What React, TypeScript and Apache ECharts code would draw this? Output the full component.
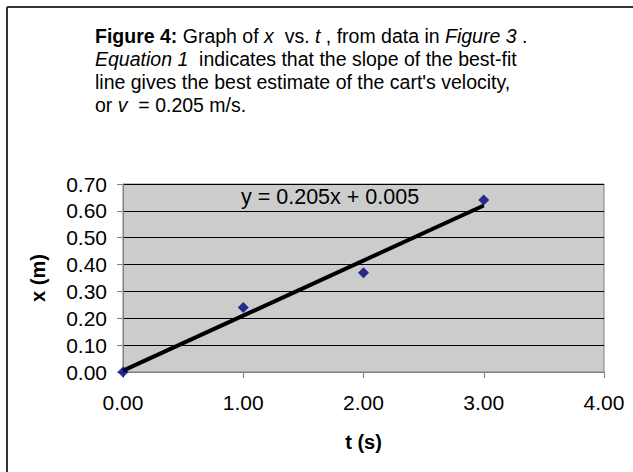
import React, { useEffect, useRef } from "react";
import * as echarts from "echarts";

const tValues = [0, 1, 2, 3];
const xValues = [0, 0.24, 0.37, 0.64];
const trendSlope = 0.205;
const trendIntercept = 0.005;
const trendRange = [0, 3];
const titleLines = [
  "{b|Figure 4:} Graph of {i|x}  vs. {i|t} , from data in {i|Figure 3} .",
  "{i|Equation 1}  indicates that the slope of the best-fit",
  "line gives the best estimate of the cart's velocity,",
  "or {i|v}  = 0.205 m/s.",
];
const equationLabel = "y = 0.205x + 0.005";

export default function App() {
  const ref = useRef<HTMLDivElement>(null);
  useEffect(() => {
    const chart = echarts.init(ref.current!, null, { renderer: "svg" });
    const font = "Arial, 'Liberation Sans', sans-serif";
    const tSize = 19.5;
    const titleGraphics = titleLines.map((t, i) => ({
      type: "text",
      left: 95,
      top: 26 + i * 23,
      style: {
        text: t,
        font: `${tSize}px ${font}`,
        fill: "#000",
        rich: {
          b: { fontWeight: "bold", fontSize: tSize, fontFamily: font, fill: "#000" },
          i: { fontStyle: "italic", fontSize: tSize, fontFamily: font, fill: "#000" },
        },
      },
    }));
    chart.setOption({
      animation: false,
      backgroundColor: "#fff",
      grid: {
        left: 123,
        top: 184,
        right: 29,
        bottom: 100,
        show: true,
        backgroundColor: "#cccccc",
        borderColor: "#808080",
        borderWidth: 1,
      },
      xAxis: {
        type: "value",
        min: 0,
        max: 4,
        interval: 1,
        name: "t (s)",
        nameLocation: "middle",
        nameGap: 60,
        nameTextStyle: { fontFamily: font, fontSize: 20, fontWeight: "bold", color: "#000" },
        axisLine: { show: true, lineStyle: { color: "#808080", width: 1 } },
        axisTick: { show: true, length: 6, lineStyle: { color: "#808080" } },
        axisLabel: {
          formatter: (v: number) => v.toFixed(2),
          fontFamily: font,
          fontSize: 21,
          color: "#000",
          margin: 20,
        },
        splitLine: { show: false },
      },
      yAxis: {
        type: "value",
        min: 0,
        max: 0.7,
        interval: 0.1,
        name: "x (m)",
        nameLocation: "middle",
        nameGap: 75,
        nameTextStyle: { fontFamily: font, fontSize: 20, fontWeight: "bold", color: "#000" },
        axisLine: { show: true, lineStyle: { color: "#808080", width: 1 } },
        axisTick: { show: true, length: 6, lineStyle: { color: "#808080" } },
        axisLabel: {
          formatter: (v: number) => v.toFixed(2),
          fontFamily: font,
          fontSize: 21,
          color: "#000",
          margin: 16,
        },
        splitLine: { show: true, lineStyle: { color: "#000", width: 1 } },
      },
      series: [
        {
          type: "line",
          data: trendRange.map((t) => [t, trendSlope * t + trendIntercept]),
          symbol: "none",
          lineStyle: { color: "#000", width: 4 },
          z: 2,
        },
        {
          type: "scatter",
          data: tValues.map((t, i) => [t, xValues[i]]),
          symbol: "diamond",
          symbolSize: 11,
          itemStyle: { color: "#000080" },
          z: 3,
        },
      ],
      graphic: [
        { type: "line", shape: { x1: 7, y1: 7, x2: 633, y2: 7 }, style: { stroke: "#333", lineWidth: 2 } },
        { type: "line", shape: { x1: 7, y1: 7, x2: 7, y2: 472 }, style: { stroke: "#333", lineWidth: 2 } },
        ...titleGraphics,
        {
          type: "text",
          left: 241,
          top: 186,
          z: 10,
          style: { text: equationLabel, font: `21.5px ${font}`, fill: "#000" },
        },
      ],
    });
    return () => chart.dispose();
  }, []);
  return (
    <div
      ref={ref}
      style={{ position: "fixed", left: 0, top: 0, width: 633, height: 472 }}
    />
  );
}
